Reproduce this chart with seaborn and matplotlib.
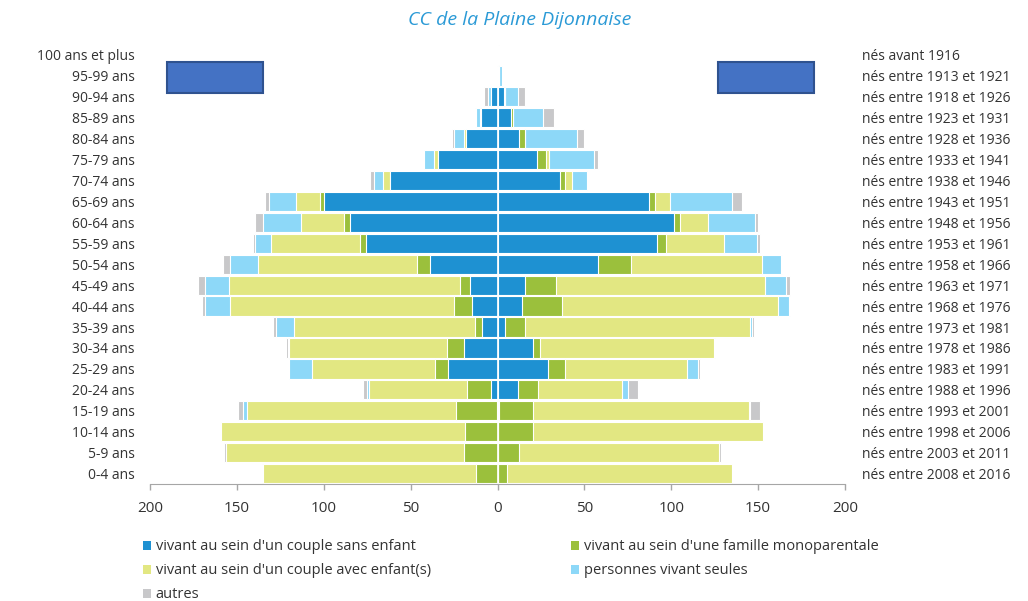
import matplotlib
matplotlib.use("Agg")
import matplotlib.pyplot as plt
from matplotlib.patches import Patch, Rectangle
import seaborn as sns
import numpy as np
import pandas as pd

# tranches d'age, du haut vers le bas
ages = ["100 ans et plus", "95-99 ans", "90-94 ans", "85-89 ans", "80-84 ans", "75-79 ans",
        "70-74 ans", "65-69 ans", "60-64 ans", "55-59 ans", "50-54 ans", "45-49 ans",
        "40-44 ans", "35-39 ans", "30-34 ans", "25-29 ans", "20-24 ans", "15-19 ans",
        "10-14 ans", "5-9 ans", "0-4 ans"]
nes = ["nés avant 1916", "nés entre 1913 et 1921", "nés entre 1918 et 1926",
       "nés entre 1923 et 1931", "nés entre 1928 et 1936", "nés entre 1933 et 1941",
       "nés entre 1938 et 1946", "nés entre 1943 et 1951", "nés entre 1948 et 1956",
       "nés entre 1953 et 1961", "nés entre 1958 et 1966", "nés entre 1963 et 1971",
       "nés entre 1968 et 1976", "nés entre 1973 et 1981", "nés entre 1978 et 1986",
       "nés entre 1983 et 1991", "nés entre 1988 et 1996", "nés entre 1993 et 2001",
       "nés entre 1998 et 2006", "nés entre 2003 et 2011", "nés entre 2008 et 2016"]

categories = ["vivant au sein d'un couple sans enfant",
              "vivant au sein d'une famille monoparentale",
              "vivant au sein d'un couple avec enfant(s)",
              "personnes vivant seules",
              "autres"]
couleurs = ["#1E91D2", "#9BC03C", "#E2E782", "#8DD8F8", "#C8C8CA"]

# hommes (gauche)
h_sans_enfant = [0, 0.5, 4, 9.4, 18.4, 34, 62, 100, 84.7, 75.5, 39, 16, 14.5, 8.8, 19.4, 28.7, 3.6, 0.5, 0, 0, 0]
h_mono = [0, 0, 0, 0, 0, 0.5, 0, 2, 3.8, 3.6, 7.4, 5.5, 10.7, 4.2, 9.5, 7.1, 14.2, 23.3, 18.8, 19.4, 12.2]
h_avec_enfant = [0, 0, 0, 0.7, 1, 2, 3.8, 14, 24.5, 51.5, 91.5, 132.8, 128.5, 104.2, 91, 70.9, 56, 120.3, 140.5, 137, 123]
h_seules = [0, 0, 1.5, 2, 5.4, 6, 5.4, 15.5, 22, 9.2, 16.3, 14.2, 14.5, 10.5, 0.8, 13.2, 1.4, 2.1, 0, 0, 0]
h_autres = [0, 0, 2.3, 1, 1.1, 0, 2, 2.5, 4.6, 1.2, 3.6, 4, 2.1, 1.3, 1, 0, 2, 3, 0, 0.8, 0.6]

# femmes (droite)
f_sans_enfant = [0, 1, 3.5, 7.5, 12.3, 22.6, 36.2, 87, 101.7, 91.6, 58, 16, 14, 4.6, 20.7, 28.9, 11.7, 1.1, 0, 0, 0]
f_mono = [0, 0, 0.8, 1.3, 3.4, 5.2, 2.7, 3.6, 3.3, 5.4, 19, 17.5, 23, 11.5, 4, 10, 11.5, 19.2, 20.7, 12.2, 5.4]
f_avec_enfant = [0, 0, 0, 0, 0, 2, 3.8, 8.6, 16, 33.6, 75, 120.5, 124.5, 129, 100, 70.3, 48.3, 124.3, 132.3, 115.3, 129.3]
f_seules = [0, 1.5, 7.7, 17.5, 30, 25.7, 8.8, 35.6, 27, 19, 11, 11.8, 6.3, 1.3, 0.6, 6, 3.6, 0.7, 0, 0, 0]
f_autres = [1, 0, 4, 6.5, 4.2, 2.1, 0, 6, 2, 1.2, 0.8, 2.6, 0.3, 1, 0, 1.2, 5.8, 5.8, 0, 1.2, 0]

sns.set_style("white")
plt.rcParams['font.family'] = ['Open Sans', 'DejaVu Sans']
texte = "#333333"
gris = "#A6A6A6"

fig = plt.figure(figsize=(10.28, 6.01), dpi=100)
ax = fig.add_axes([150 / 1028, 1 - 484 / 601, 695 / 1028, 439.5 / 601])


def dessiner_cote(series, signe):
    cumul = np.cumsum(np.array(series, dtype=float), axis=0)
    # on dessine de l'exterieur vers le centre pour empiler
    for k in reversed(range(len(series))):
        df = pd.DataFrame({"age": ages, "valeur": signe * cumul[k]})
        sns.barplot(data=df, x="valeur", y="age", order=ages, orient="y",
                    color=couleurs[k], saturation=1, errorbar=None,
                    width=0.92, edgecolor="white", linewidth=0.8, ax=ax)


dessiner_cote([h_sans_enfant, h_mono, h_avec_enfant, h_seules, h_autres], -1)
dessiner_cote([f_sans_enfant, f_mono, f_avec_enfant, f_seules, f_autres], 1)

ax.axvline(0, color="white", lw=1.2)
ax.set_xlim(-200, 200)
ax.set_ylim(20.5, -0.5)
ax.set_xlabel("")
ax.set_ylabel("")
ax.set_xticks(np.arange(-200, 201, 50))
ax.set_xticklabels([str(abs(v)) for v in range(-200, 201, 50)])
ax.tick_params(axis="x", colors=gris, labelcolor=texte, labelsize=11, length=4,
               width=1, direction="out", bottom=True, pad=8)
ax.tick_params(axis="y", length=0, labelsize=10, labelcolor=texte, pad=11)
for s in ["left", "right", "top"]:
    ax.spines[s].set_visible(False)
ax.spines["bottom"].set_color(gris)

ax2 = ax.twinx()
ax2.set_ylim(20.5, -0.5)
ax2.set_yticks(range(len(nes)))
ax2.set_yticklabels(nes)
ax2.tick_params(axis="y", length=0, labelsize=10, labelcolor=texte, pad=12)
for s in ["left", "right", "top", "bottom"]:
    ax2.spines[s].set_visible(False)

# rectangles bleus (emplacements des pictogrammes)
for x0 in [167, 718]:
    fig.patches.append(Rectangle((x0 / 1028, 1 - 93 / 601), 96 / 1028, 31 / 601,
                                 transform=fig.transFigure, facecolor="#4472C4",
                                 edgecolor="#2F528F", linewidth=1.5))

fig.text(520 / 1028, 1 - 20 / 601, "CC de la Plaine Dijonnaise", ha="center", va="center",
         fontsize=14, style="italic", color="#2B9AD6")

poignees = [Patch(facecolor=c, edgecolor="none") for c in couleurs]
opts = dict(frameon=False, fontsize=10.5, handlelength=0.55, handleheight=0.55,
            handletextpad=0.3, labelspacing=0.62, borderpad=0, labelcolor=texte)
fig.legend([poignees[0], poignees[2], poignees[4]], [categories[0], categories[2], categories[4]],
           loc="upper left", bbox_to_anchor=(136 / 1028, 1 - 532 / 601), **opts)
fig.legend([poignees[1], poignees[3]], [categories[1], categories[3]],
           loc="upper left", bbox_to_anchor=(564 / 1028, 1 - 532 / 601), **opts)

fig.savefig("out.png", dpi=100)
